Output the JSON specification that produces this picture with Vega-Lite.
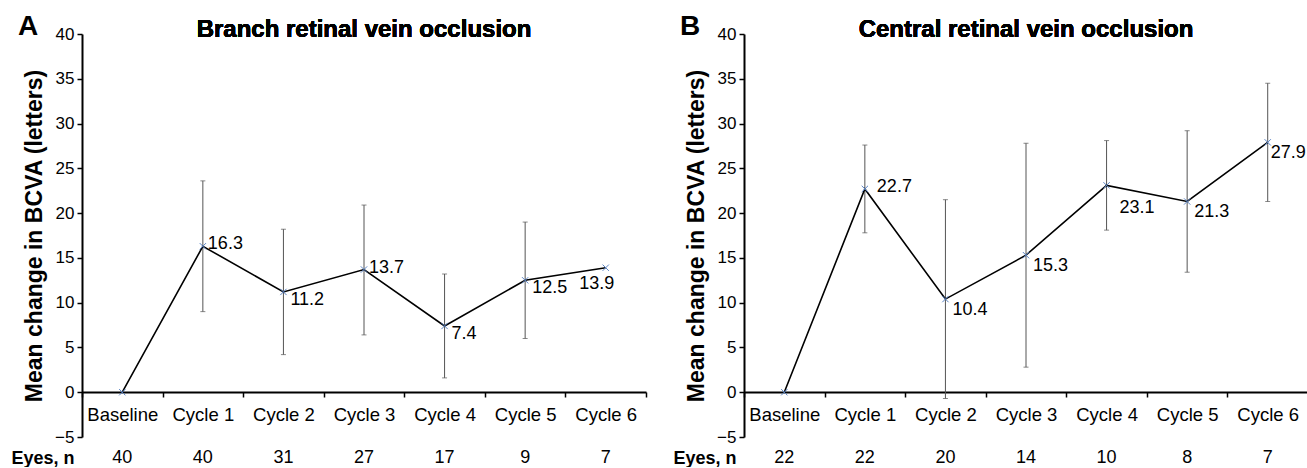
{
  "$schema": "https://vega.github.io/schema/vega-lite/v6.json",
  "padding": {"left": 10, "top": 13, "right": 0, "bottom": 0},
  "spacing": 25,
  "config": {
    "font": "Liberation Sans",
    "view": {"stroke": null},
    "axis": {"domainColor": "black", "domainWidth": 2, "tickColor": "black", "tickWidth": 1.5, "labelColor": "black", "titleColor": "black", "grid": false},
    "axisX": {"labelFontSize": 18.5, "labelAngle": 0, "tickSize": 5, "labelPadding": 8, "tickBand": "extent", "offset": -45, "titleFontSize": 18, "titleFontWeight": "bold", "titleAnchor": "start", "titleAlign": "right", "titleX": -8, "titleY": 71, "titleBaseline": "alphabetic"},
    "axisY": {"labelFontSize": 17, "tickSize": 5, "labelPadding": 3, "titleFontSize": 23, "titleFontWeight": "bold", "titlePadding": 8, "values": [-5, 0, 5, 10, 15, 20, 25, 30, 35, 40]},
    "title": {"fontSize": 28, "fontWeight": "bold", "anchor": "start", "frame": "bounds", "color": "black"}
  },
  "datasets": {
    "brvo": [
      {"cycle": "Baseline", "mean": 0, "lo": null, "hi": null, "n": 40},
      {"cycle": "Cycle 1", "mean": 16.3, "lo": 9.0, "hi": 23.6, "n": 40},
      {"cycle": "Cycle 2", "mean": 11.2, "lo": 4.2, "hi": 18.2, "n": 31},
      {"cycle": "Cycle 3", "mean": 13.7, "lo": 6.4, "hi": 20.9, "n": 27},
      {"cycle": "Cycle 4", "mean": 7.4, "lo": 1.6, "hi": 13.2, "n": 17},
      {"cycle": "Cycle 5", "mean": 12.5, "lo": 6.0, "hi": 19.0, "n": 9},
      {"cycle": "Cycle 6", "mean": 13.9, "lo": null, "hi": null, "n": 7}
    ],
    "crvo": [
      {"cycle": "Baseline", "mean": 0, "lo": null, "hi": null, "n": 22},
      {"cycle": "Cycle 1", "mean": 22.7, "lo": 17.8, "hi": 27.6, "n": 22},
      {"cycle": "Cycle 2", "mean": 10.4, "lo": -0.7, "hi": 21.5, "n": 20},
      {"cycle": "Cycle 3", "mean": 15.3, "lo": 2.8, "hi": 27.8, "n": 14},
      {"cycle": "Cycle 4", "mean": 23.1, "lo": 18.1, "hi": 28.1, "n": 10},
      {"cycle": "Cycle 5", "mean": 21.3, "lo": 13.4, "hi": 29.2, "n": 8},
      {"cycle": "Cycle 6", "mean": 27.9, "lo": 21.3, "hi": 34.5, "n": 7}
    ]
  },
  "hconcat": [
    {
      "width": 564, "height": 403,
      "title": {"text": "A", "offset": -23, "dx": 7},
      "data": {"name": "brvo"},
      "encoding": {
        "x": {"field": "cycle", "type": "nominal", "sort": null, "scale": {"domain": ["Baseline", "Cycle 1", "Cycle 2", "Cycle 3", "Cycle 4", "Cycle 5", "Cycle 6"], "paddingInner": 0, "paddingOuter": 0}, "axis": {"title": "Eyes, n"}}
      },
      "layer": [
        {"mark": {"type": "rule", "color": "#555", "strokeWidth": 1},
         "encoding": {"y": {"field": "lo", "type": "quantitative", "title": "Mean change in BCVA (letters)", "scale": {"domain": [-5, 40], "nice": false, "zero": false}}, "y2": {"field": "hi"}}},
        {"mark": {"type": "tick", "color": "#555", "thickness": 1, "size": 5},
         "encoding": {"y": {"field": "lo", "type": "quantitative", "title": "Mean change in BCVA (letters)"}}},
        {"mark": {"type": "tick", "color": "#555", "thickness": 1, "size": 5},
         "encoding": {"y": {"field": "hi", "type": "quantitative", "title": "Mean change in BCVA (letters)"}}},
        {"mark": {"type": "line", "color": "black", "strokeWidth": 1.6},
         "encoding": {"y": {"field": "mean", "type": "quantitative", "title": "Mean change in BCVA (letters)"}}},
        {"mark": {"type": "point", "shape": "M-1,-1L1,1M1,-1L-1,1", "size": 40, "stroke": "#5b84c4", "strokeWidth": 1, "filled": false, "opacity": 1},
         "encoding": {"y": {"field": "mean", "type": "quantitative", "title": "Mean change in BCVA (letters)"}}},
        {"transform": [{"filter": {"field": "cycle", "oneOf": ["Cycle 1", "Cycle 3"]}}],
         "mark": {"type": "text", "align": "left", "baseline": "middle", "dx": 5, "dy": -2, "fontSize": 18},
         "encoding": {"y": {"field": "mean", "type": "quantitative", "title": "Mean change in BCVA (letters)"}, "text": {"field": "mean", "type": "quantitative", "format": ".1f"}}},
        {"transform": [{"filter": {"field": "cycle", "oneOf": ["Cycle 2", "Cycle 4", "Cycle 5"]}}],
         "mark": {"type": "text", "align": "left", "baseline": "middle", "dx": 7, "dy": 8, "fontSize": 18},
         "encoding": {"y": {"field": "mean", "type": "quantitative", "title": "Mean change in BCVA (letters)"}, "text": {"field": "mean", "type": "quantitative", "format": ".1f"}}},
        {"transform": [{"filter": {"field": "cycle", "oneOf": ["Cycle 6"]}}],
         "mark": {"type": "text", "align": "center", "baseline": "middle", "dx": -9, "dy": 16, "fontSize": 18},
         "encoding": {"y": {"field": "mean", "type": "quantitative", "title": "Mean change in BCVA (letters)"}, "text": {"field": "mean", "type": "quantitative", "format": ".1f"}}},
        {"mark": {"type": "text", "align": "center", "baseline": "alphabetic", "dy": 3, "fontSize": 24, "fontWeight": "bold"},
         "encoding": {"x": {"datum": "Cycle 3", "type": "nominal"}, "y": {"datum": 40, "type": "quantitative"}, "text": {"value": "Branch retinal vein occlusion"}}},
        {"mark": {"type": "text", "align": "center", "baseline": "alphabetic", "dy": 26, "fontSize": 18},
         "encoding": {"y": {"datum": -5, "type": "quantitative"}, "text": {"field": "n", "type": "quantitative"}}}
      ]
    },
    {
      "width": 564, "height": 403,
      "title": {"text": "B", "offset": -23, "dx": 7},
      "data": {"name": "crvo"},
      "encoding": {
        "x": {"field": "cycle", "type": "nominal", "sort": null, "scale": {"domain": ["Baseline", "Cycle 1", "Cycle 2", "Cycle 3", "Cycle 4", "Cycle 5", "Cycle 6"], "paddingInner": 0, "paddingOuter": 0}, "axis": {"title": "Eyes, n"}}
      },
      "layer": [
        {"mark": {"type": "rule", "color": "#555", "strokeWidth": 1},
         "encoding": {"y": {"field": "lo", "type": "quantitative", "title": "Mean change in BCVA (letters)", "scale": {"domain": [-5, 40], "nice": false, "zero": false}}, "y2": {"field": "hi"}}},
        {"mark": {"type": "tick", "color": "#555", "thickness": 1, "size": 5},
         "encoding": {"y": {"field": "lo", "type": "quantitative", "title": "Mean change in BCVA (letters)"}}},
        {"mark": {"type": "tick", "color": "#555", "thickness": 1, "size": 5},
         "encoding": {"y": {"field": "hi", "type": "quantitative", "title": "Mean change in BCVA (letters)"}}},
        {"mark": {"type": "line", "color": "black", "strokeWidth": 1.6},
         "encoding": {"y": {"field": "mean", "type": "quantitative", "title": "Mean change in BCVA (letters)"}}},
        {"mark": {"type": "point", "shape": "M-1,-1L1,1M1,-1L-1,1", "size": 40, "stroke": "#5b84c4", "strokeWidth": 1, "filled": false, "opacity": 1},
         "encoding": {"y": {"field": "mean", "type": "quantitative", "title": "Mean change in BCVA (letters)"}}},
        {"transform": [{"filter": {"field": "cycle", "oneOf": ["Cycle 1"]}}],
         "mark": {"type": "text", "align": "left", "baseline": "middle", "dx": 12, "dy": -2, "fontSize": 18},
         "encoding": {"y": {"field": "mean", "type": "quantitative", "title": "Mean change in BCVA (letters)"}, "text": {"field": "mean", "type": "quantitative", "format": ".1f"}}},
        {"transform": [{"filter": {"field": "cycle", "oneOf": ["Cycle 2", "Cycle 3", "Cycle 5"]}}],
         "mark": {"type": "text", "align": "left", "baseline": "middle", "dx": 7, "dy": 11, "fontSize": 18},
         "encoding": {"y": {"field": "mean", "type": "quantitative", "title": "Mean change in BCVA (letters)"}, "text": {"field": "mean", "type": "quantitative", "format": ".1f"}}},
        {"transform": [{"filter": {"field": "cycle", "oneOf": ["Cycle 6"]}}],
         "mark": {"type": "text", "align": "left", "baseline": "middle", "dx": 3, "dy": 11, "fontSize": 18},
         "encoding": {"y": {"field": "mean", "type": "quantitative", "title": "Mean change in BCVA (letters)"}, "text": {"field": "mean", "type": "quantitative", "format": ".1f"}}},
        {"transform": [{"filter": {"field": "cycle", "oneOf": ["Cycle 4"]}}],
         "mark": {"type": "text", "align": "left", "baseline": "middle", "dx": 13, "dy": 23, "fontSize": 18},
         "encoding": {"y": {"field": "mean", "type": "quantitative", "title": "Mean change in BCVA (letters)"}, "text": {"field": "mean", "type": "quantitative", "format": ".1f"}}},
        {"mark": {"type": "text", "align": "center", "baseline": "alphabetic", "dy": 3, "fontSize": 24, "fontWeight": "bold"},
         "encoding": {"x": {"datum": "Cycle 3", "type": "nominal"}, "y": {"datum": 40, "type": "quantitative"}, "text": {"value": "Central retinal vein occlusion"}}},
        {"mark": {"type": "text", "align": "center", "baseline": "alphabetic", "dy": 26, "fontSize": 18},
         "encoding": {"y": {"datum": -5, "type": "quantitative"}, "text": {"field": "n", "type": "quantitative"}}}
      ]
    }
  ]
}
